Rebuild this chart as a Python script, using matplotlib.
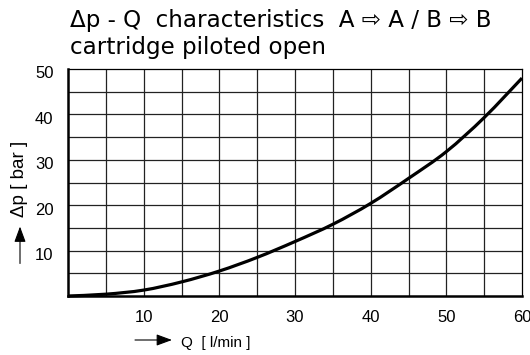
import matplotlib
matplotlib.use("Agg")
import matplotlib.pyplot as plt
from matplotlib.patches import FancyArrowPatch, PathPatch
from matplotlib.path import Path

Q = [0, 5, 10, 15, 20, 25, 30, 35, 40, 45, 50, 55, 60]
dp = [0, 0.4, 1.3, 3.1, 5.5, 8.5, 12.0, 15.8, 20.4, 25.9, 31.8, 39.3, 48.0]
xticks = [10, 20, 30, 40, 50, 60]
yticks = [10, 20, 30, 40, 50]
title1 = "\u0394p - Q  characteristics  A \u21e8 A / B \u21e8 B"
title2 = "cartridge piloted open"
ylabel = "\u0394p [ bar ]"
xlabel = "Q  [ l/min ]"

W, H = 530, 355
FAM = ['Liberation Sans', 'DejaVu Sans']
plt.rcParams['font.family'] = FAM

fig = plt.figure(figsize=(W / 100, H / 100), dpi=100)
L, R, T, B = 68, 522, 69, 296
ax = fig.add_axes([L / W, 1 - B / H, (R - L) / W, (B - T) / H])
ax.set_xlim(0, 60)
ax.set_ylim(0, 50)

for v in range(5, 60, 5):
    ax.axvline(v, color='#222222', lw=0.9, zorder=1)
for v in range(5, 50, 5):
    ax.axhline(v, color='#222222', lw=0.9, zorder=1)

# smooth curve through the read points (Catmull-Rom as cubic Bezier segments)
verts = [(Q[0], dp[0])]
codes = [Path.MOVETO]
n = len(Q)
for i in range(n - 1):
    p0 = (Q[max(i - 1, 0)], dp[max(i - 1, 0)])
    p1 = (Q[i], dp[i])
    p2 = (Q[i + 1], dp[i + 1])
    p3 = (Q[min(i + 2, n - 1)], dp[min(i + 2, n - 1)])
    c1 = (p1[0] + (p2[0] - p0[0]) / 6, p1[1] + (p2[1] - p0[1]) / 6)
    c2 = (p2[0] - (p3[0] - p1[0]) / 6, p2[1] - (p3[1] - p1[1]) / 6)
    verts += [c1, c2, p2]
    codes += [Path.CURVE4] * 3
ax.add_patch(PathPatch(Path(verts, codes), facecolor='none', edgecolor='black',
                       lw=2.3, zorder=3, capstyle='butt', clip_on=False))

ax.set_xticks([])
ax.set_yticks([])
for s in ['left', 'bottom']:
    ax.spines[s].set_linewidth(1.8)
for s in ['top', 'right']:
    ax.spines[s].set_linewidth(0.9)

# tick labels
for v in xticks:
    xp = L + v / 60 * (R - L)
    fig.text(xp / W, 1 - 318 / H, str(v), ha='center', va='center', fontsize=12)
for v in yticks:
    yp = B - v / 50 * (B - T) + 5
    fig.text(53.5 / W, 1 - yp / H, str(v), ha='right', va='center', fontsize=12)

fig.text(70 / W, 1 - 26.7 / H, title1, ha='left', va='baseline', fontsize=16.6,
         family=['DejaVu Sans'])
fig.text(70 / W, 1 - 54.3 / H, title2, ha='left', va='baseline', fontsize=16.6,
         family=['DejaVu Sans'])

fig.text(19 / W, 1 - 178.5 / H, ylabel, rotation=90, ha='center', va='center', fontsize=13.5)
fig.text(181 / W, 1 - 343 / H, xlabel, ha='left', va='center', fontsize=11)

fig.add_artist(FancyArrowPatch(
    (20 / W, 1 - 263.5 / H), (20 / W, 1 - 226.5 / H), transform=fig.transFigure,
    arrowstyle='-|>,head_length=0.95,head_width=0.35', mutation_scale=10,
    color='black', lw=0.8, shrinkA=0, shrinkB=0))
fig.add_artist(FancyArrowPatch(
    (135 / W, 1 - 340 / H), (172 / W, 1 - 340 / H), transform=fig.transFigure,
    arrowstyle='-|>,head_length=0.95,head_width=0.35', mutation_scale=10,
    color='black', lw=0.8, shrinkA=0, shrinkB=0))

fig.savefig('out.png', dpi=100)
